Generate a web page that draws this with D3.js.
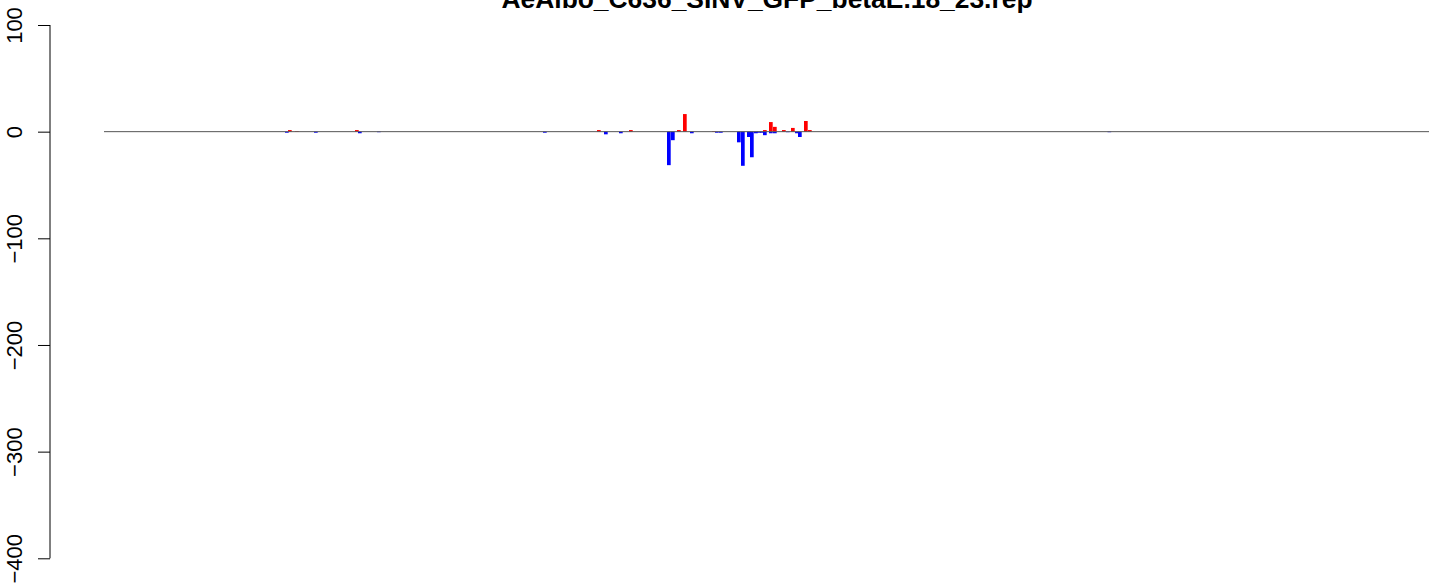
<!DOCTYPE html>
<html>
<head>
<meta charset="utf-8">
<script src="https://cdn.jsdelivr.net/npm/d3@7"></script>
<style>
  html, body { margin: 0; padding: 0; background: #fff; }
  svg { display: block; }
  text { font-family: "Liberation Sans", Arial, Helvetica, sans-serif; }
</style>
</head>
<body>
<svg id="chart" width="1429" height="583"></svg>
<script>
// ---- data ----
const title = "AeAlbo_C636_SINV_GFP_betaE.18_23.rep";
const yTicks = [100, 0, -100, -200, -300, -400];
// sense (positive, red) bars: position and count
const sensePos   = [184, 191, 251, 493, 525, 573, 579, 608, 659, 665, 669, 678, 687, 700, 704];
const senseVal   = [1.5, 0.5, 1.5, 1.5, 1.5, 1.5, 16.5, 0.5, 1.5, 9, 4.5, 1.5, 3.5, 10, 1.5];
// antisense (negative, blue) bars
const antiPos    = [181, 210, 254, 273, 439, 500, 515, 563, 567, 586, 611, 615, 633, 637, 643, 646, 650, 653, 656, 659, 665, 669, 682, 691, 694, 1003.5];
const antiVal    = [-1, -1, -1.5, -0.5, -1, -2.5, -1.5, -31.4, -8, -1.5, -1, -1, -10, -32, -5, -24, -1.5, -1, -1, -3.3, -1.5, -1.5, -0.5, -1.5, -5, -0.5];
const xDomain = [0, 1325];
const barWidthUnits = 3.7;

// ---- drawing ----
const svg = d3.select("#chart");
const x = d3.scaleLinear().domain(xDomain).range([104, 1429]);
const y = d3.scaleLinear().domain([-400, 100]).range([558.3, 25]);

// title
svg.append("text")
  .attr("x", 767).attr("y", 8)
  .attr("text-anchor", "middle")
  .attr("font-weight", "bold")
  .attr("font-size", 26.4)
  .text(title);

const bw = x(barWidthUnits) - x(0);

// antisense bars
svg.append("g").selectAll("rect")
  .data(antiPos.map((p, i) => ({p, v: antiVal[i]})))
  .join("rect")
  .attr("x", d => x(d.p))
  .attr("width", bw)
  .attr("y", y(0))
  .attr("height", d => y(d.v) - y(0))
  .attr("fill", "#0000ff");

// sense bars
svg.append("g").selectAll("rect")
  .data(sensePos.map((p, i) => ({p, v: senseVal[i]})))
  .join("rect")
  .attr("x", d => x(d.p))
  .attr("width", bw)
  .attr("y", d => y(d.v))
  .attr("height", d => y(0) - y(d.v))
  .attr("fill", "#ff0000");

// zero line
svg.append("line")
  .attr("x1", x(xDomain[0])).attr("x2", x(xDomain[1]))
  .attr("y1", y(0)).attr("y2", y(0))
  .attr("stroke", "#555").attr("stroke-width", 1);

// y axis
const axis = d3.axisLeft(y).tickValues(yTicks).tickSize(12).tickPadding(0)
  .tickFormat(d => String(d).replace("-", "\u2212"));
const ag = svg.append("g").attr("transform", "translate(50,0)").call(axis);
ag.select(".domain").attr("d", `M0,${y(100)}V${y(-400)}`).attr("stroke", "#000");
ag.selectAll(".tick line").attr("stroke", "#000");
ag.selectAll(".tick text")
  .attr("font-size", 22)
  .attr("fill", "#000")
  .attr("font-family", "'Liberation Sans', Arial, Helvetica, sans-serif")
  .attr("text-anchor", "middle")
  .attr("dy", null)
  .attr("x", null)
  .attr("transform", "translate(-28.3,0) rotate(-90)")
  .attr("y", 0);
</script>
</body>
</html>
